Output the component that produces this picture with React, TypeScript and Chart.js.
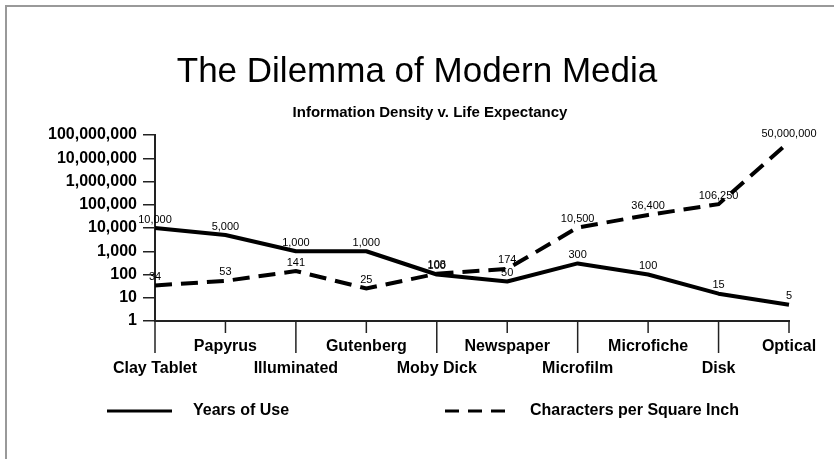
import React, { useEffect, useRef } from "react";
import { Chart, registerables } from "chart.js";

Chart.register(...registerables);

const chartTitle = "The Dilemma of Modern Media";
const chartSubtitle = "Information Density v. Life Expectancy";
const categories = [
  "Clay Tablet",
  "Papyrus",
  "Illuminated",
  "Gutenberg",
  "Moby Dick",
  "Newspaper",
  "Microfilm",
  "Microfiche",
  "Disk",
  "Optical",
];
const seriesNames = ["Years of Use", "Characters per Square Inch"];
const yearsOfUse = [10000, 5000, 1000, 1000, 100, 50, 300, 100, 15, 5];
const charsPerSquareInch = [34, 53, 141, 25, 108, 174, 10500, 36400, 106250, 50000000];
const yTicks = [1, 10, 100, 1000, 10000, 100000, 1000000, 10000000, 100000000];

const FONT = '"Liberation Sans", Arial, sans-serif';
const fmt = (v: number) => Number(v).toLocaleString("en-US");

const drawPlugin = {
  id: "customDraw",
  beforeDraw(chart: any) {
    const ctx = chart.ctx;
    ctx.save();
    ctx.fillStyle = "#fff";
    ctx.fillRect(0, 0, chart.width, chart.height);
    ctx.strokeStyle = "#999";
    ctx.lineWidth = 2;
    ctx.beginPath();
    ctx.moveTo(6, chart.height);
    ctx.lineTo(6, 6);
    ctx.lineTo(chart.width, 6);
    ctx.stroke();
    ctx.restore();
  },
  afterDatasetsDraw(chart: any) {
    const ctx = chart.ctx;
    ctx.save();
    ctx.font = `11px ${FONT}`;
    ctx.fillStyle = "#000";
    ctx.textAlign = "center";
    ctx.textBaseline = "bottom";
    chart.data.datasets.forEach((ds: any, di: number) => {
      const meta = chart.getDatasetMeta(di);
      meta.data.forEach((pt: any, i: number) => {
        ctx.fillText(fmt(ds.data[i]), pt.x, pt.y - 3);
      });
    });
    ctx.restore();
  },
  afterDraw(chart: any) {
    const ctx = chart.ctx;
    const xs = chart.scales.x;
    const bottom = chart.chartArea.bottom;
    ctx.save();
    // title
    ctx.fillStyle = "#000";
    ctx.textAlign = "center";
    ctx.textBaseline = "middle";
    ctx.font = `35px ${FONT}`;
    ctx.fillText(chartTitle, 417, 72);
    ctx.font = `bold 15px ${FONT}`;
    ctx.fillText(chartSubtitle, 430, 113);

    // x ticks & labels
    ctx.strokeStyle = "#222";
    ctx.lineWidth = 1.5;
    ctx.font = `bold 16px ${FONT}`;
    categories.forEach((c, i) => {
      const px = xs.getPixelForValue(i);
      const long = i % 2 === 0;
      ctx.beginPath();
      ctx.moveTo(px, bottom);
      ctx.lineTo(px, bottom + (long ? 32 : 12));
      ctx.stroke();
      ctx.fillText(c, px, long ? 369 : 347);
    });

    // legend
    ctx.strokeStyle = "#000";
    ctx.lineWidth = 3;
    ctx.beginPath();
    ctx.moveTo(107, 411);
    ctx.lineTo(172, 411);
    ctx.stroke();
    ctx.setLineDash([14, 9]);
    ctx.beginPath();
    ctx.moveTo(445, 411);
    ctx.lineTo(505, 411);
    ctx.stroke();
    ctx.setLineDash([]);
    ctx.textAlign = "left";
    ctx.fillText(seriesNames[0], 193, 411);
    ctx.fillText(seriesNames[1], 530, 411);
    ctx.restore();
  },
};

export default function App() {
  const ref = useRef<HTMLCanvasElement>(null);
  useEffect(() => {
    document.body.style.margin = "0";
    const chart = new Chart(ref.current as HTMLCanvasElement, {
      type: "line",
      data: {
        labels: categories,
        datasets: [
          {
            label: seriesNames[0],
            data: yearsOfUse,
            borderColor: "#000",
            borderWidth: 4,
            pointRadius: 0,
            tension: 0,
            fill: false,
            borderJoinStyle: "round",
          },
          {
            label: seriesNames[1],
            data: charsPerSquareInch,
            borderColor: "#000",
            borderWidth: 4,
            borderDash: [17, 9],
            pointRadius: 0,
            tension: 0,
            fill: false,
          },
        ],
      },
      options: {
        responsive: false,
        animation: false,
        layout: { padding: { left: 0, right: 45, top: 135, bottom: 0 } },
        plugins: {
          legend: { display: false },
          title: { display: false },
          tooltip: { enabled: false },
        },
        scales: {
          x: {
            type: "category",
            offset: false,
            grid: { display: false },
            border: { display: true, color: "#222", width: 2 },
            ticks: { display: false },
            afterFit: (s: any) => {
              s.height = 138;
            },
          },
          y: {
            type: "logarithmic",
            min: 1,
            max: 100000000,
            afterBuildTicks: (s: any) => {
              s.ticks = yTicks.map((v) => ({ value: v, major: true }));
            },
            afterFit: (s: any) => {
              s.width = 155;
            },
            grid: {
              drawOnChartArea: false,
              drawTicks: true,
              tickLength: 12,
              color: "#222",
              lineWidth: 1.5,
            },
            border: { display: true, color: "#222", width: 2 },
            ticks: {
              autoSkip: false,
              padding: 6,
              color: "#000",
              font: { family: FONT, size: 16, weight: "bold" },
              callback: (v: any) => fmt(v),
            },
          },
        },
      },
      plugins: [drawPlugin],
    } as any);
    return () => chart.destroy();
  }, []);
  return (
    <div style={{ position: "fixed", left: 0, top: 0, width: 834, height: 459 }}>
      <canvas ref={ref} width={834} height={459} />
    </div>
  );
}
